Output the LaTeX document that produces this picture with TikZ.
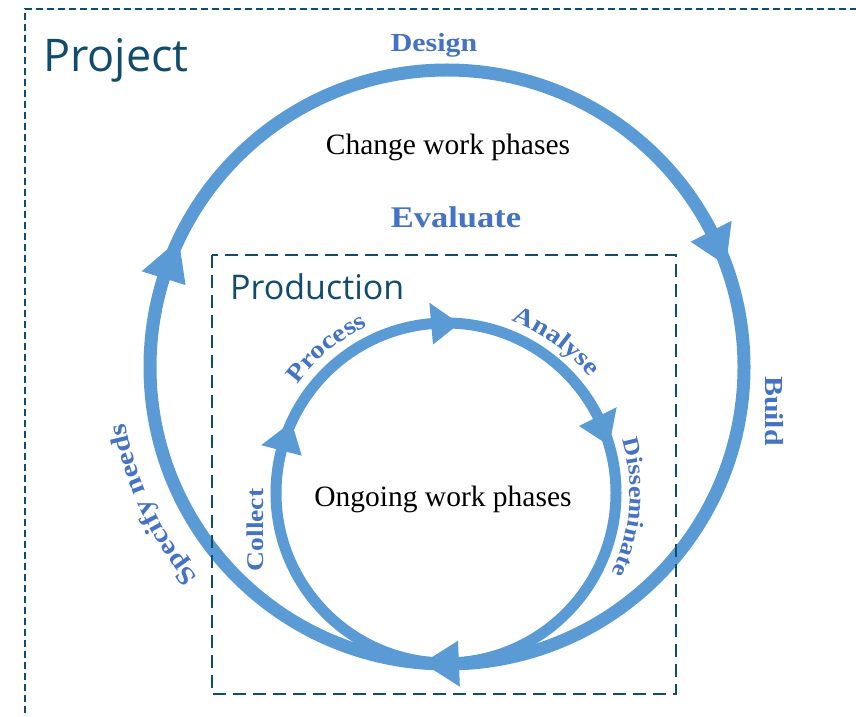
\documentclass[tikz,border=0pt]{standalone}
\usepackage{fontspec}
\setmainfont{Liberation Serif}
\newfontfamily\headfont{Open Sans}
\newfontfamily\lblfont[FakeStretch=1.15]{Liberation Serif}
\usetikzlibrary{calc,decorations.text}
\definecolor{ringblue}{HTML}{5B9BD5}
\definecolor{lblblue}{HTML}{4472C4}
\definecolor{boxteal}{HTML}{124C6C}
\newcommand\arrowtri[5]{\fill[ringblue] ($(#1)+(#3:#2)$) -- ($(#1)+(#4:{#2+#5})$) -- ($(#1)+(#4:{#2-#5})$) -- cycle;}
\newcommand\curvedlabel[6]{\path[decorate, decoration={text along path, text={|\lblfont\bfseries\fontsize{#6}{#6}\selectfont|#5}, text align=center, text color=lblblue}] ($(#1)+(#2:#4)$) arc[start angle=#2, end angle=#3, radius=#4];}
\begin{document}
\begin{tikzpicture}[x=1pt,y=1pt,
  ring/.style={draw=ringblue},
  dashbox/.style={draw=boxteal, line width=1.6pt, dash pattern=on 7pt off 4pt},
  prodbox/.style={draw=boxteal, line width=1.8pt, dash pattern=on 13pt off 7pt},
  lbl/.style={text=lblblue, font=\lblfont\bfseries\fontsize{#1}{#1}\selectfont, inner sep=0pt},
  plain/.style={text=black, font=\fontsize{29.5}{30}\selectfont, inner sep=0pt},
  head/.style={text=boxteal, font=\headfont\fontsize{#1}{#1}\selectfont, inner sep=0pt}]
\useasboundingbox (0,0) rectangle (856,716);
\clip (0,0) rectangle (856,716);
\coordinate (oc) at (447,349);
\coordinate (ic) at (446,223);
% rings
\draw[ring, line width=13pt] (oc) circle[radius=297];
\draw[ring, line width=11pt] (ic) circle[radius=170];
% arrowheads outer
\arrowtri{oc}{297}{154.6}{162.6}{23}
\arrowtri{oc}{297}{20.0}{27.2}{23}
\arrowtri{oc}{297}{265.3}{272.3}{23}
% arrowheads inner
\arrowtri{ic}{170}{85.5}{95}{21}
\arrowtri{ic}{170}{16.2}{26.7}{21}
\arrowtri{ic}{170}{155.3}{165.5}{21}
% boxes
\draw[dashbox] (25,-30) -- (25,707) -- (900,707);
\draw[prodbox] (212,461) rectangle (676,22);
% headings
\node[head=45, anchor=base west] (project) at (43,644) {Project};
\node[head=34, anchor=base west] (production) at (230,417) {Production};
% plain texts
\node[plain, anchor=base] (change) at (448,561) {Change work phases};
\node[plain, anchor=base] (ongoing) at (443,210) {Ongoing work phases};
% blue labels
\node[lbl=26, anchor=base] (design) at (434,664) {Design};
\node[lbl=30, anchor=base] (evaluate) at (456,488) {Evaluate};
\node[lbl=26, anchor=base, rotate=-90] (build) at (765,305) {Build};
\node[lbl=24, anchor=base, rotate=90] (collect) at (263,186) {Collect};
\curvedlabel{oc}{223}{187}{326}{Specify needs}{26}
\curvedlabel{ic}{146}{113}{184}{Process}{25}
\curvedlabel{ic}{72}{36}{184}{Analyse}{25}
\curvedlabel{ic}{17}{-26}{184}{Disseminate}{23}
\end{tikzpicture}
\end{document}
